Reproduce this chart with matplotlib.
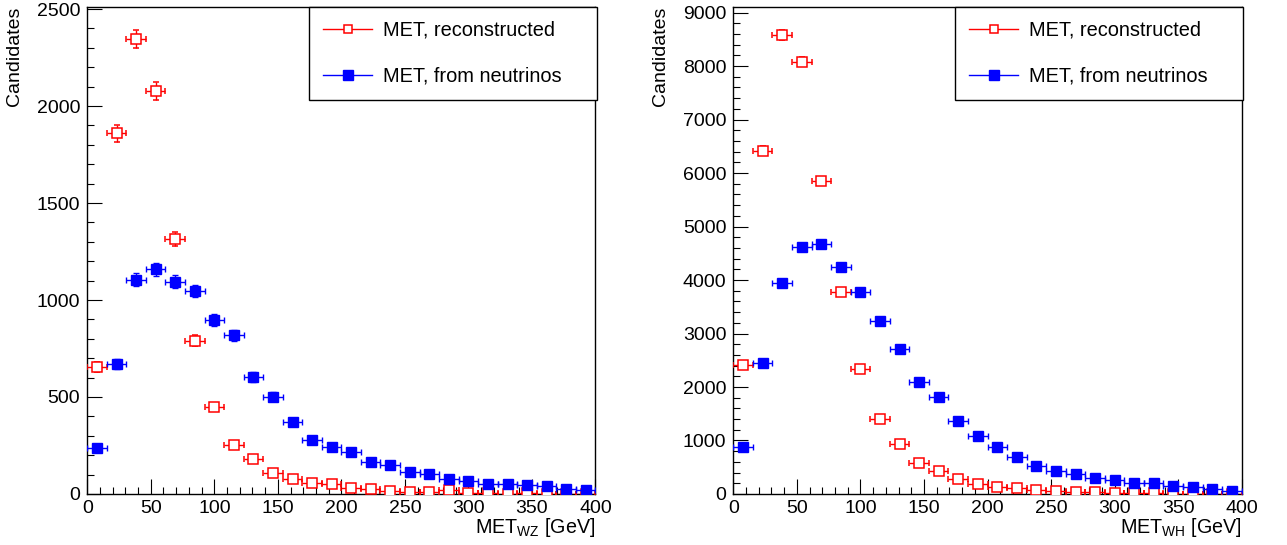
import numpy as np
import matplotlib
matplotlib.use("Agg")
import matplotlib.pyplot as plt
from matplotlib.lines import Line2D
from matplotlib.ticker import MultipleLocator

plt.rcParams['font.family'] = ['Liberation Sans', 'DejaVu Sans']
plt.rcParams['mathtext.default'] = 'regular'

# 26 bins from 0 to 400 GeV
bin_edges = np.linspace(0, 400, 27)

# left panel: WZ
wz_reco = [655, 1860, 2345, 2078, 1313, 790, 449, 253, 180, 110, 76, 57, 50,
           32, 26, 15, 12, 9, 21, 5, 4, 1, 5, 1, 1, 0]
wz_nu = [236, 670, 1104, 1159, 1095, 1047, 896, 818, 602, 502, 371, 277, 242,
         217, 165, 150, 112, 102, 76, 67, 50, 50, 45, 40, 24, 21]

# right panel: WH
wh_reco = [2407, 6419, 8588, 8083, 5853, 3777, 2337, 1408, 940, 585, 424, 280,
           193, 136, 112, 75, 62, 43, 43, 24, 13, 24, 5, 1, 0, 0]
wh_nu = [879, 2444, 3940, 4613, 4675, 4239, 3771, 3229, 2706, 2089, 1808, 1359,
         1081, 879, 686, 518, 424, 374, 294, 256, 200, 200, 144, 125, 93, 62]

labels = ["MET, reconstructed", "MET, from neutrinos"]
xlabels = [r"MET$_{WZ}$ [GeV]", r"MET$_{WH}$ [GeV]"]
ylims = [2512, 9110]
ymajor = [500, 1000]
yminor = [100, 200]

centers = 0.5 * (bin_edges[1:] + bin_edges[:-1])
halfw = 0.5 * (bin_edges[1:] - bin_edges[:-1])

fig = plt.figure(figsize=(12.87, 5.45), dpi=100)
ax1 = fig.add_axes([0.0678, 0.0936, 0.3949, 0.8941])
ax2 = fig.add_axes([0.5698, 0.0936, 0.3950, 0.8941])


def draw_panel(ax, reco, nu, xlabel, ytop, ymaj, ymin):
    reco = np.array(reco, dtype=float)
    nu = np.array(nu, dtype=float)
    ax.errorbar(centers, reco, xerr=halfw, yerr=np.sqrt(reco), fmt='s',
                color='red', mfc='white', mec='red', ms=6.8, mew=1.1,
                elinewidth=1, capsize=2.5, capthick=1, zorder=3)
    ax.errorbar(centers, nu, xerr=halfw, yerr=np.sqrt(nu), fmt='s',
                color='blue', mfc='blue', mec='blue', ms=6.6,
                elinewidth=1, capsize=2.5, capthick=1, zorder=4)
    ax.set_xlim(0, 400)
    ax.set_ylim(0, ytop)
    ax.xaxis.set_major_locator(MultipleLocator(50))
    ax.xaxis.set_minor_locator(MultipleLocator(10))
    ax.yaxis.set_major_locator(MultipleLocator(ymaj))
    ax.yaxis.set_minor_locator(MultipleLocator(ymin))
    ax.tick_params(which='both', direction='in', top=False, right=False,
                   labelsize=14, colors='black')
    ax.tick_params(which='major', length=10.5, width=0.8)
    ax.tick_params(which='minor', length=5.2, width=0.8)
    ax.tick_params(axis='x', pad=4)
    ax.tick_params(axis='y', pad=5)
    for s in ax.spines.values():
        s.set_linewidth(1.0)
    ax.set_xlabel(xlabel, fontsize=14.2, ha='right')
    ax.xaxis.set_label_coords(1.0, -0.046)
    ax.set_ylabel("Candidates", fontsize=14, ha='right')
    ax.yaxis.set_label_coords(-0.1265, 1.0)

    handles = [
        Line2D([], [], color='red', lw=1, marker='s', mfc='white', mec='red',
               ms=6.3, mew=1.1),
        Line2D([], [], color='blue', lw=1, marker='s', mfc='blue', mec='blue',
               ms=6.5),
    ]
    leg = ax.legend(handles, labels, loc='upper left',
                    bbox_to_anchor=(0.436, 0.8127, 0.566, 0.1873),
                    mode='expand', borderaxespad=0, fontsize=14.4,
                    handlelength=2.47, handletextpad=0.55, borderpad=0.7,
                    labelspacing=1.35, fancybox=False, framealpha=1,
                    edgecolor='black')
    leg.get_frame().set_linewidth(1.0)
    leg.set_zorder(5)


draw_panel(ax1, wz_reco, wz_nu, xlabels[0], ylims[0], ymajor[0], yminor[0])
draw_panel(ax2, wh_reco, wh_nu, xlabels[1], ylims[1], ymajor[1], yminor[1])

fig.savefig("out.png", dpi=100)
